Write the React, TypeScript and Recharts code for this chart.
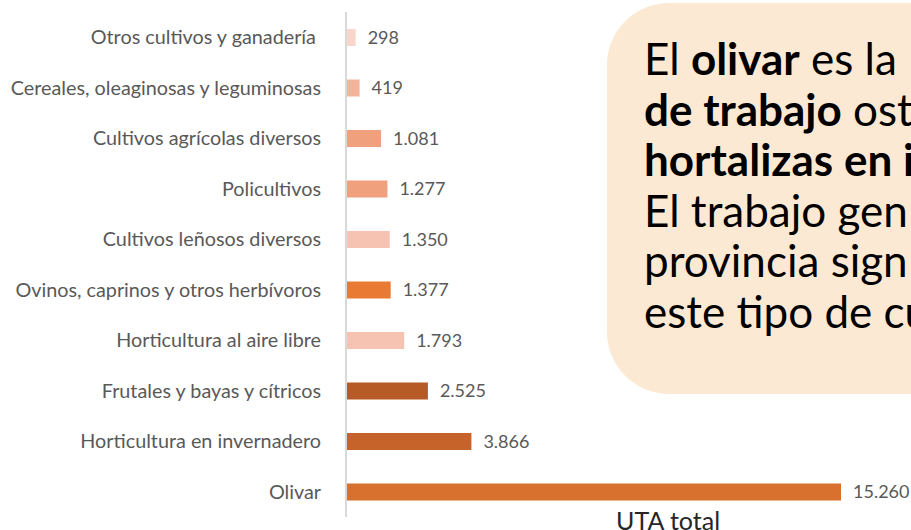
import { BarChart, Bar, XAxis, YAxis, Cell, LabelList } from "recharts";

const categories = [
  "Otros cultivos y ganadería\u00a0",
  "Cereales, oleaginosas y leguminosas",
  "Cultivos agrícolas diversos",
  "Policultivos",
  "Cultivos leñosos diversos",
  "Ovinos, caprinos y otros herbívoros",
  "Horticultura al aire libre",
  "Frutales y bayas y cítricos",
  "Horticultura en invernadero",
  "Olivar",
];
const uta = [298, 419, 1081, 1277, 1350, 1377, 1793, 2525, 3866, 15260];
const barColors = [
  "#F8D6CB",
  "#F4B49B",
  "#F1A07E",
  "#F1A07E",
  "#F6C3B3",
  "#E97A34",
  "#F6C3B3",
  "#B65A26",
  "#C5632A",
  "#D8702E",
];

const fmt = (v: number) => v.toLocaleString("de-DE");

export default function App() {
  const data = categories.map((c, i) => ({ name: c, value: uta[i] }));
  return (
    <div
      style={{
        position: "absolute",
        left: 0,
        top: 0,
        width: 911,
        height: 530,
        overflow: "hidden",
        background: "#fff",
        fontFamily: "Lato, sans-serif",
      }}
    >
      <BarChart
        width={911}
        height={530}
        data={data}
        layout="vertical"
        margin={{ top: 12, right: 70, bottom: 13, left: 0 }}
        barCategoryGap={0}
        style={{ position: "absolute", left: 0, top: 0 }}
      >
        <XAxis type="number" hide domain={[0, 15260]} />
        <YAxis
          type="category"
          dataKey="name"
          width={346}
          tickLine={false}
          tickMargin={19}
          axisLine={{ stroke: "#D9D9D9", strokeWidth: 2 }}
          tick={{ fill: "#595959", fontSize: 19.8, fontFamily: "Lato" }}
          interval={0}
        />
        <Bar dataKey="value" barSize={17} isAnimationActive={false}>
          {data.map((d, i) => (
            <Cell key={d.name} fill={barColors[i]} />
          ))}
          <LabelList
            dataKey="value"
            position="right"
            offset={12}
            formatter={(v: any) => fmt(Number(v))}
            style={{ fill: "#595959", fontSize: 18, fontFamily: "Lato" }}
          />
        </Bar>
      </BarChart>

      <div
        style={{
          position: "absolute",
          left: 607,
          top: 3,
          width: 420,
          height: 391,
          borderRadius: 62,
          background: "#FCE9D3",
        }}
      />
      <div
        style={{
          position: "absolute",
          left: 644,
          top: 33,
          fontSize: 44,
          lineHeight: "50.5px",
          color: "#000",
          whiteSpace: "nowrap",
          fontFamily: "Lato",
        }}
      >
        <div>
          El <b>olivar</b> es la
        </div>
        <div>
          <b>de trabajo</b> ost
        </div>
        <div>
          <b>hortalizas en i</b>
        </div>
        <div>El trabajo gen</div>
        <div>provincia sign</div>
        <div>este tipo de cu</div>
      </div>

      <div
        style={{
          position: "absolute",
          left: 616,
          top: 505,
          fontSize: 25,
          color: "#262626",
          whiteSpace: "nowrap",
          fontFamily: "Lato",
        }}
      >
        UTA total
      </div>
    </div>
  );
}
